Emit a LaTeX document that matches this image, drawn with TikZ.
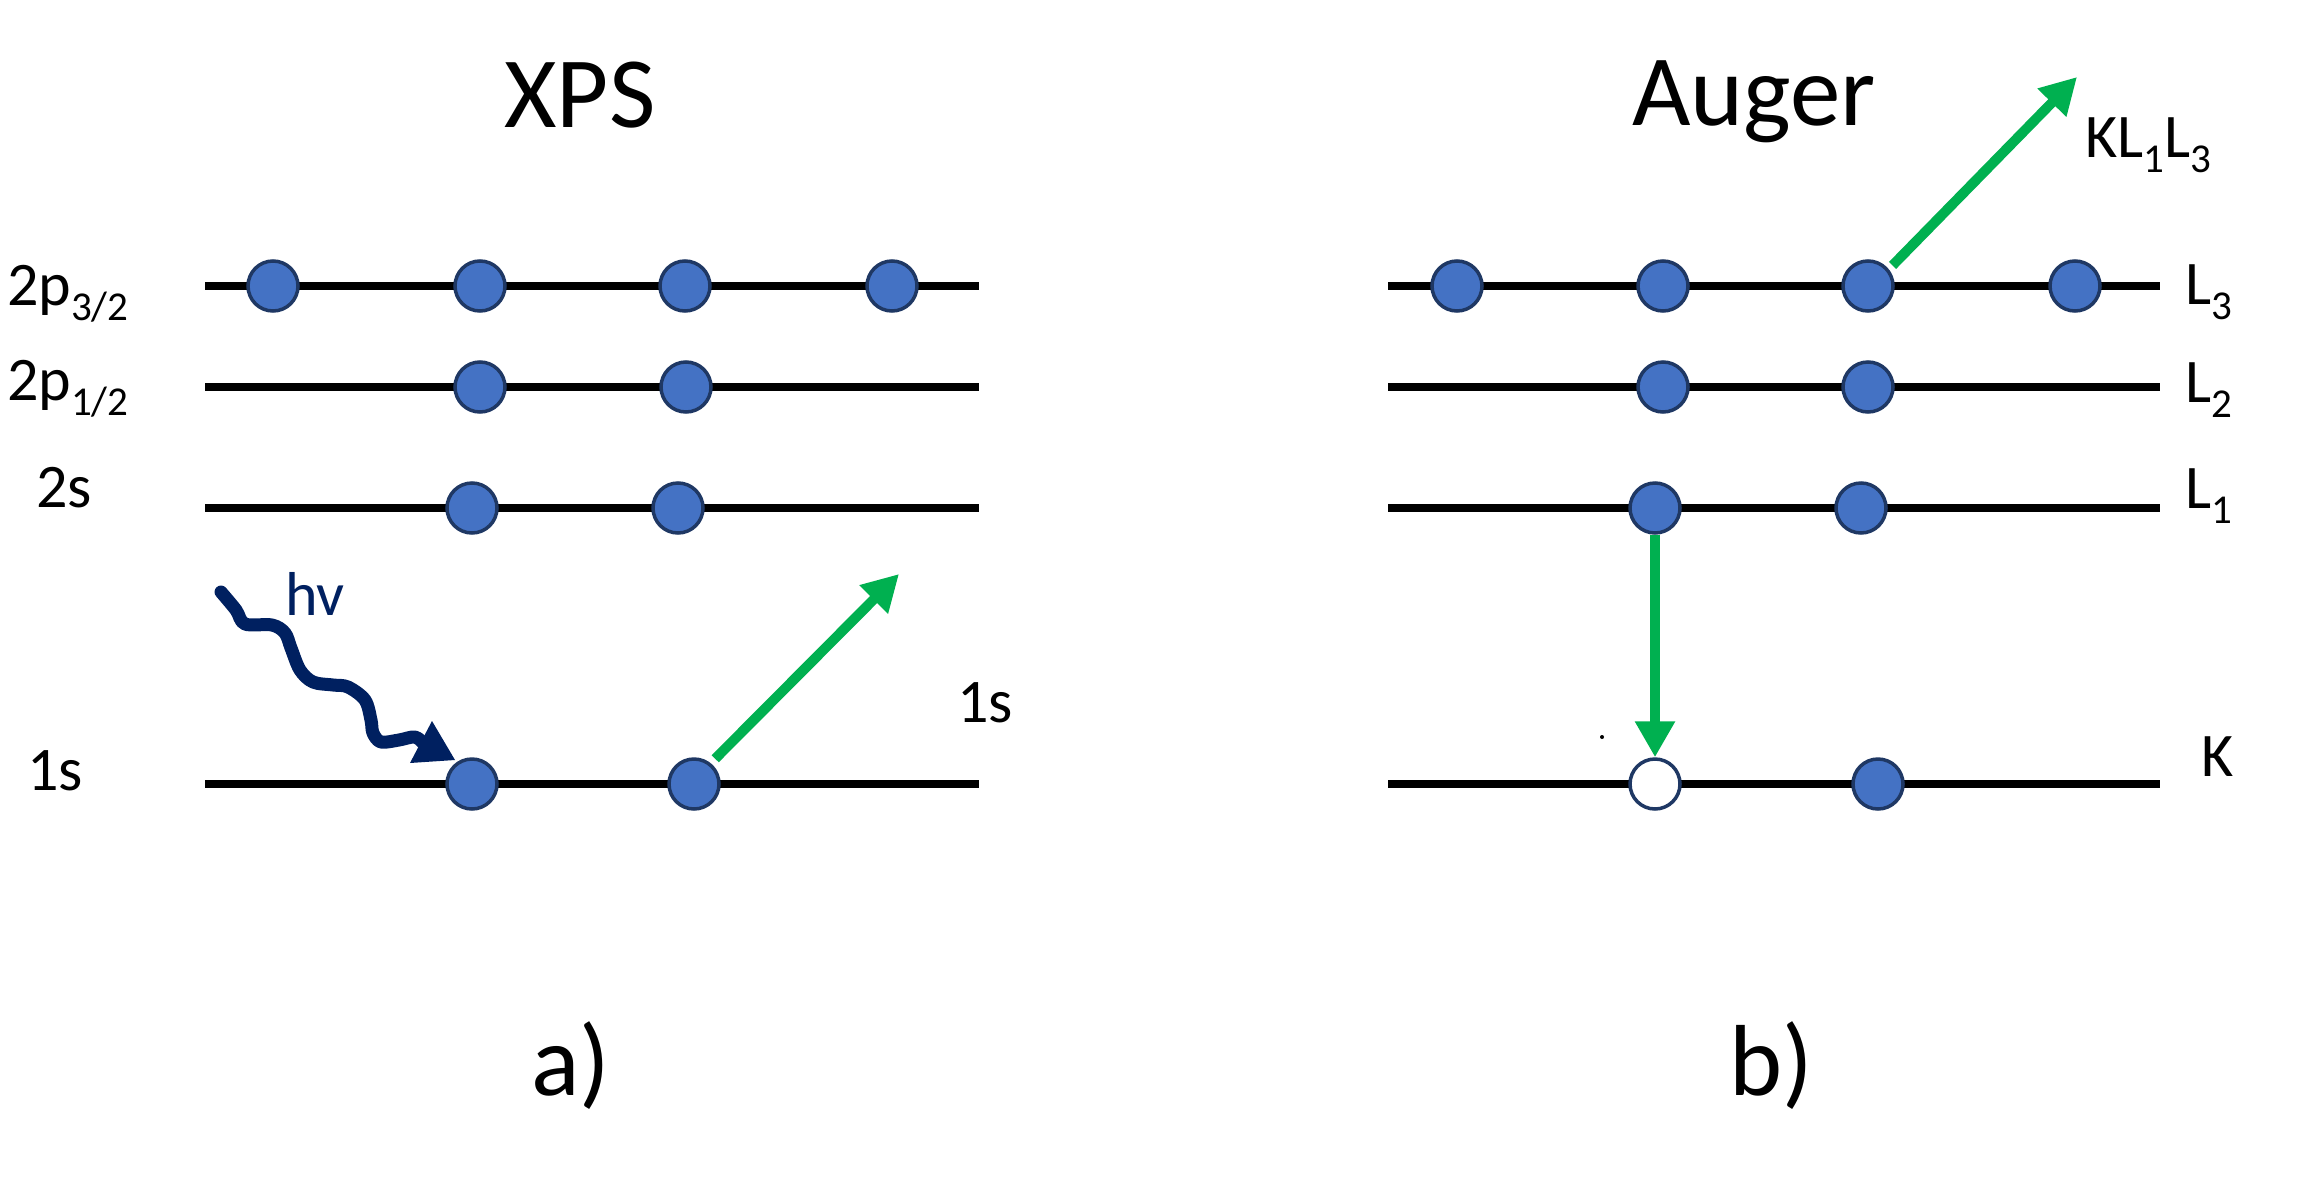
\documentclass[tikz,border=0pt]{standalone}
\usepackage{fontspec}
\setmainfont{Carlito}
\usetikzlibrary{arrows.meta,calc}
\definecolor{dotblue}{HTML}{4472C4}
\definecolor{dotedge}{HTML}{1F3864}
\definecolor{agreen}{HTML}{00B050}
\definecolor{hvnavy}{HTML}{002060}
\newcommand\lbsub[1]{\raisebox{-15pt}{\fontsize{41}{41}\selectfont #1}}
\begin{document}
\begin{tikzpicture}[x=1pt,y=-1pt,
  levelline/.style={line width=8pt},
  electron/.style={circle,minimum size=50pt,inner sep=0pt,fill=dotblue,draw=dotedge,line width=3.5pt},
  hole/.style={electron,fill=white},
  garrow/.style={agreen,line width=10pt,-{Triangle[length=36pt,width=38pt]}},
  lab/.style={font=\fontsize{62}{70}\selectfont,anchor=base west,inner sep=0pt},
  ttl/.style={font=\fontsize{101}{110}\selectfont,anchor=base,inner sep=0pt}]
\useasboundingbox (0,0) rectangle (2301,1191);
\fill[white] (0,0) rectangle (2301,1191);

% titles
\node[ttl] (txps) at (580,127) {XPS};
\node[ttl] (taug) at (1754,125) {Auger};
\node[ttl] (ta) at (571,1095) {a)};
\node[ttl] (tb) at (1771,1095) {b)};

% XPS levels
\foreach \y in {286,387,508,784} \draw[levelline] (205,\y) -- (979,\y);
% Auger levels
\foreach \y in {286,387,508,784} \draw[levelline] (1388,\y) -- (2160,\y);

% XPS electrons
\node[electron] (x3a) at (273,286) {};
\node[electron] (x3b) at (480,286) {};
\node[electron] (x3c) at (685,286) {};
\node[electron] (x3d) at (892,286) {};
\node[electron] (x2a) at (480,387) {};
\node[electron] (x2b) at (686,387) {};
\node[electron] (xsa) at (472,508) {};
\node[electron] (xsb) at (678,508) {};
\node[electron] (x1a) at (472,784) {};
\node[electron] (x1b) at (694,784) {};

% Auger electrons
\node[electron] (a3a) at (1457,286) {};
\node[electron] (a3b) at (1663,286) {};
\node[electron] (a3c) at (1868,286) {};
\node[electron] (a3d) at (2075,286) {};
\node[electron] (a2a) at (1663,387) {};
\node[electron] (a2b) at (1868,387) {};
\node[electron] (a1a) at (1655,508) {};
\node[electron] (a1b) at (1861,508) {};
\node[hole] (aKa) at (1655,784) {};
\node[electron] (aKb) at (1878,784) {};

% labels XPS
\node[lab] (l2p3) at (7,305) {2p\lbsub{3/2}};
\node[lab] (l2p1) at (7,400) {2p\lbsub{1/2}};
\node[lab] (l2s) at (36,507) {2s};
\node[lab] (l1s) at (27,790) {1s};
\node[lab] (l1sr) at (957,722) {1s};
\node[lab,text=hvnavy] (lhv) at (285,615) {hv};

% labels Auger
\node[lab] (lL3) at (2185,304) {L\lbsub{3}};
\node[lab] (lL2) at (2185,402) {L\lbsub{2}};
\node[lab] (lL1) at (2185,508) {L\lbsub{1}};
\node[lab] (lK) at (2201,776) {K};
\node[lab] (lKLL) at (2085,157) {KL\lbsub{1}L\lbsub{3}};

% green arrows
\coordinate (xtip) at (899,574);
\coordinate (atip) at (2077,77);
\draw[garrow] ($(x1b)+(-50:33)$) -- (xtip);
\draw[garrow] ($(a3c)+(-40:32)$) -- (atip);
\draw[garrow] (a1a.south) -- (aKa.north);

% photon (hv)
\draw[hvnavy,line width=13pt,line cap=round,line join=round]
  plot[smooth,tension=0.55] coordinates {(221,592) (236,610) (245,624) (272,625) (285,633) (291,648) (300,670) (313,682) (333,685) (348,687) (365,700) (371,720) (373,733) (381,742) (399,740) (415,737) (424,744)};
\fill[hvnavy] (410,763) -- (432,721) -- (455,760) -- cycle;

% stray speck
\fill[black] (1602,737) circle (2pt);
\end{tikzpicture}
\end{document}
